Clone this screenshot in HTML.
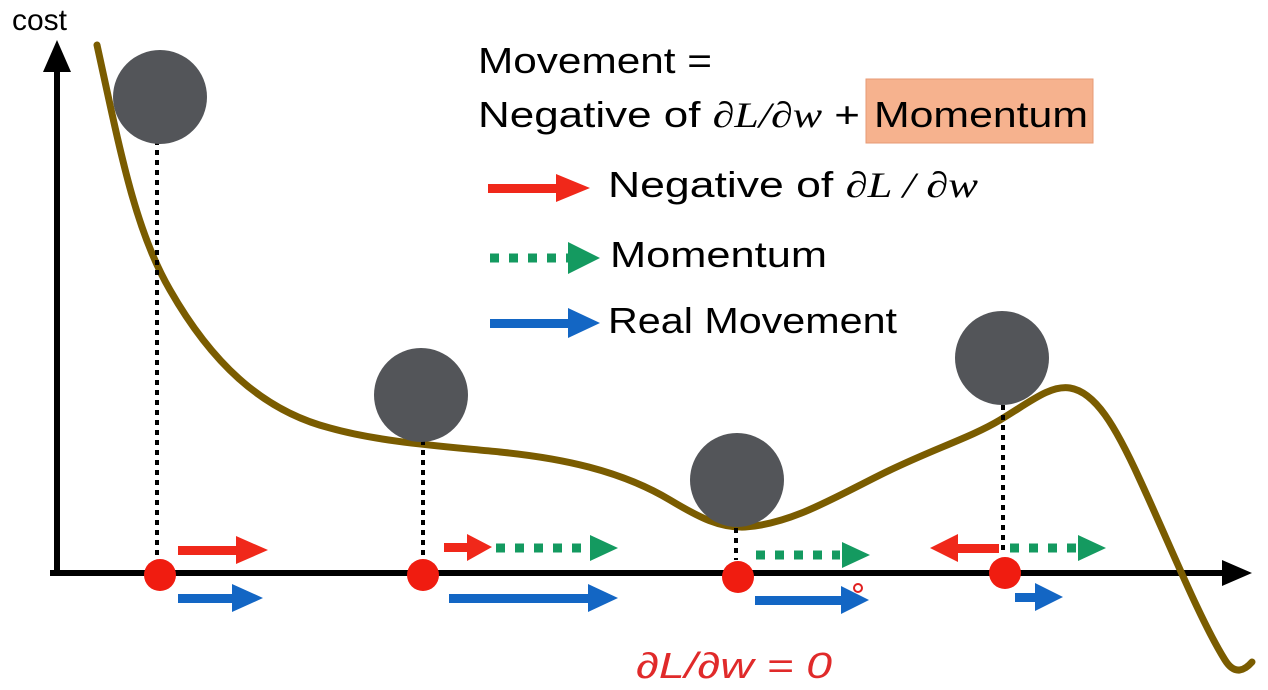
<!DOCTYPE html>
<html><head><meta charset="utf-8"><style>
html,body{margin:0;padding:0;background:#fff;}
svg{display:block;}
text{font-family:"Liberation Sans",sans-serif;}
</style></head><body>
<svg width="1268" height="690" viewBox="0 0 1268 690" xmlns="http://www.w3.org/2000/svg">
<rect width="1268" height="690" fill="#fff"/>
<!-- axes -->
<line x1="57" y1="575" x2="57" y2="70" stroke="#000" stroke-width="6"/>
<polygon points="43,72 57,40 71,72" fill="#000"/>
<line x1="50" y1="573" x2="1230" y2="573" stroke="#000" stroke-width="6"/>
<polygon points="1222,560 1252,573 1222,586" fill="#000"/>
<text x="12" y="30" font-size="30" fill="#000">cost</text>
<!-- curve -->
<path d="M97,45 C120,150 135,230 170,290 C210,360 260,410 330,428 C380,442 440,446 500,452 C560,458 620,470 670,500 C700,518 720,528 745,527 C790,524 830,500 880,475 C930,450 970,438 1000,420 C1030,402 1050,385 1070,388 C1095,392 1115,425 1140,480 C1170,545 1200,620 1225,660 C1235,676 1245,670 1252,662" fill="none" stroke="#7a5c00" stroke-width="7" stroke-linecap="round"/>
<!-- dotted verticals -->
<g stroke="#000" stroke-width="4" stroke-dasharray="5,5">
<line x1="157" y1="140" x2="157" y2="562"/>
<line x1="423" y1="440" x2="423" y2="562"/>
<line x1="736" y1="528" x2="736" y2="560"/>
<line x1="1003" y1="405" x2="1003" y2="550"/>
</g>
<!-- balls -->
<g fill="#535559">
<circle cx="160" cy="97" r="47"/>
<circle cx="421" cy="395" r="47"/>
<circle cx="737" cy="480" r="47"/>
<circle cx="1002" cy="358" r="47"/>
</g>
<!-- red dots -->
<g fill="#f01c10">
<circle cx="160" cy="575" r="16"/>
<circle cx="423" cy="575" r="16"/>
<circle cx="738" cy="577" r="16"/>
<circle cx="1005" cy="573" r="16"/>
</g>
<!-- arrows: red -->
<g fill="#f0281a">
<rect x="178" y="546" width="60" height="9"/><polygon points="236,536 268,550 236,564"/>
<rect x="444" y="543" width="25" height="9"/><polygon points="467,534 492,547 467,561"/>
<rect x="955" y="544" width="44" height="9"/><polygon points="958,534 930,548 958,562"/>
<rect x="488" y="184" width="70" height="9"/><polygon points="556,174 590,188 556,202"/>
</g>
<!-- arrows: green dotted -->
<g fill="#149a60">
<line x1="496" y1="548" x2="590" y2="548" stroke="#149a60" stroke-width="9" stroke-dasharray="9,10"/>
<polygon points="590,535 618,548 590,561"/>
<line x1="756" y1="555" x2="840" y2="555" stroke="#149a60" stroke-width="9" stroke-dasharray="9,10"/>
<polygon points="842,542 870,555 842,568"/>
<line x1="1010" y1="548" x2="1078" y2="548" stroke="#149a60" stroke-width="9" stroke-dasharray="9,10"/>
<polygon points="1078,535 1106,548 1078,561"/>
<line x1="490" y1="258" x2="568" y2="258" stroke="#149a60" stroke-width="9" stroke-dasharray="9,10"/>
<polygon points="568,242 600,258 568,274"/>
</g>
<!-- arrows: blue -->
<g fill="#1366c4">
<rect x="178" y="594" width="56" height="9"/><polygon points="232,584 263,598 232,612"/>
<rect x="449" y="594" width="140" height="9"/><polygon points="588,584 618,598 588,612"/>
<rect x="755" y="596" width="86" height="9"/><polygon points="841,586 869,600 841,614"/>
<rect x="1015" y="593" width="22" height="9"/><polygon points="1035,583 1063,597 1035,611"/>
<rect x="490" y="319" width="80" height="9"/><polygon points="568,308 600,323 568,338"/>
</g>
<circle cx="858" cy="588" r="4" fill="none" stroke="#e02020" stroke-width="2"/>
<!-- texts -->
<rect x="866" y="79" width="227" height="64" fill="#f6b28e" stroke="#e79a74" stroke-width="1"/>
<text x="478" y="73" font-size="36" textLength="234" lengthAdjust="spacingAndGlyphs">Movement =</text>
<text x="478" y="127" font-size="36" textLength="382" lengthAdjust="spacingAndGlyphs">Negative of <tspan font-family="Liberation Serif" font-style="italic">∂L/∂w</tspan> +</text>
<text x="874" y="127" font-size="36" textLength="214" lengthAdjust="spacingAndGlyphs">Momentum</text>
<text x="608" y="197" font-size="36" textLength="370" lengthAdjust="spacingAndGlyphs">Negative of <tspan font-family="Liberation Serif" font-style="italic">∂L / ∂w</tspan></text>
<text x="610" y="267" font-size="36" textLength="217" lengthAdjust="spacingAndGlyphs">Momentum</text>
<text x="608" y="333" font-size="36" textLength="289" lengthAdjust="spacingAndGlyphs">Real Movement</text>
<text x="636" y="678" font-size="36" fill="#e02a2a" font-family="Liberation Serif" font-style="italic" textLength="196" lengthAdjust="spacingAndGlyphs">∂L/∂w = 0</text>
</svg>
</body></html>
